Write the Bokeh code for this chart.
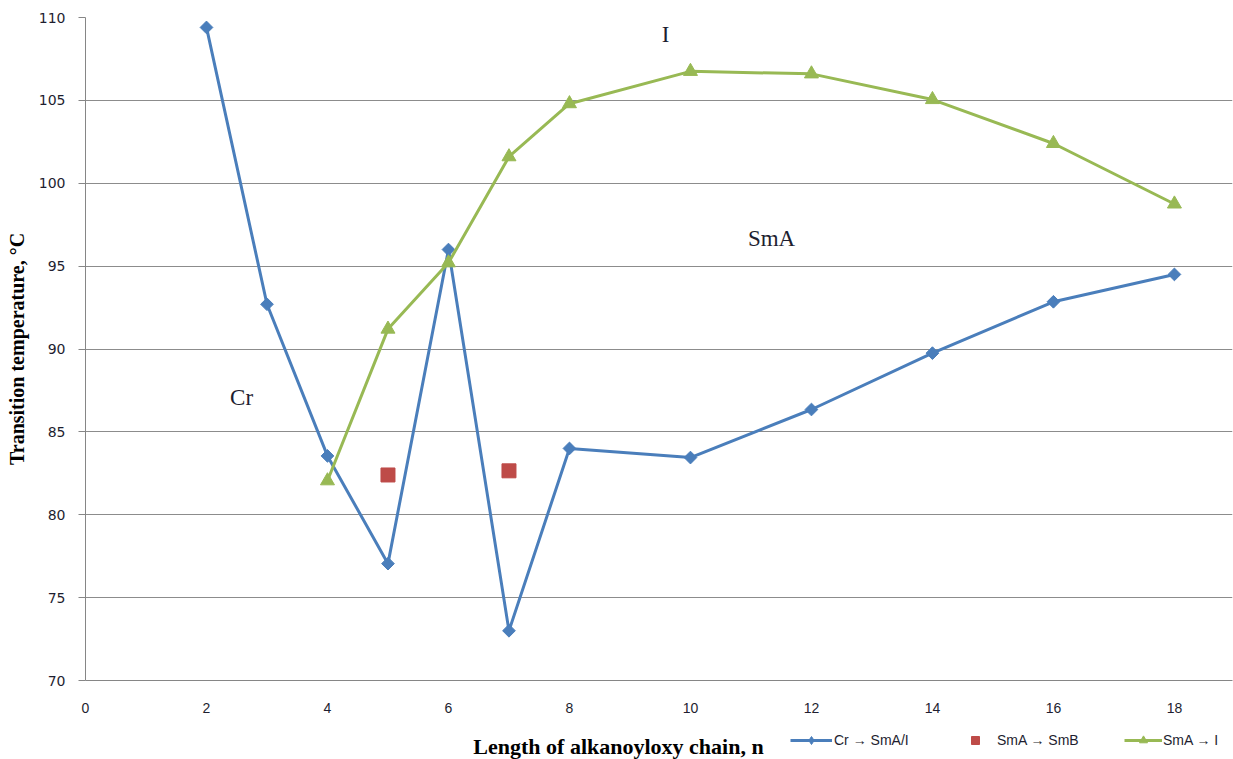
import numpy as np
from bokeh.plotting import figure
from bokeh.layouts import column
from bokeh.models import Range1d, FixedTicker, Label, Legend, LegendItem
from bokeh.embed import file_html
from bokeh.resources import INLINE

# ---- data ----
n_cr = [2, 3, 4, 5, 6, 7, 8, 10, 12, 14, 16, 18]
t_cr = [109.4, 92.7, 83.55, 77.05, 96.0, 73.0, 84.0, 83.45, 86.35, 89.75, 92.85, 94.5]

n_smb = [5, 7]
t_smb = [82.4, 82.65]

n_iso = [4, 5, 6, 7, 8, 10, 12, 14, 16, 18]
t_iso = [82.05, 91.2, 95.2, 101.6, 104.8, 106.75, 106.6, 105.05, 102.4, 98.75]

x_ticks = [0, 2, 4, 6, 8, 10, 12, 14, 16, 18]
y_ticks = [70, 75, 80, 85, 90, 95, 100, 105, 110]

phase_labels = ["I", "SmA", "Cr"]
phase_x = [9.59, 11.34, 2.58]
phase_y = [109.0, 96.65, 87.05]

series_names = ["Cr \u2192 SmA/I", "SmA \u2192 SmB", "SmA \u2192 I"]
x_title = "Length of alkanoyloxy chain, n"
y_title = "Transition temperature, \u00b0C"

BLUE = "#4A7EBB"
RED = "#BE4B48"
GREEN = "#98B954"
TXT = "#1e1e30"
NARROW = "Liberation Sans"

p = figure(frame_width=1147, frame_height=663, output_backend="svg", toolbar_location=None,
           x_range=Range1d(0, 18.96), y_range=Range1d(70, 110),
           min_border_left=85, min_border_right=1, min_border_top=17, min_border_bottom=42,
           background_fill_color="white", border_fill_color="white")
p.outline_line_color = None

# grid
p.xgrid.grid_line_color = None
p.ygrid.grid_line_color = "#8c8c8c"
p.ygrid.grid_line_width = 1
p.ygrid.ticker = FixedTicker(ticks=y_ticks)

# axes
p.xaxis.ticker = FixedTicker(ticks=x_ticks)
p.yaxis.ticker = FixedTicker(ticks=y_ticks)
for ax in (p.xaxis[0], p.yaxis[0]):
    ax.axis_line_color = "#868686"
    ax.axis_line_width = 1
    ax.minor_tick_line_color = None
    ax.major_label_text_color = TXT
p.xaxis.major_tick_line_color = None
p.xaxis.major_label_standoff = 16
p.xaxis.major_label_text_font = NARROW
p.xaxis.major_label_text_font_size = "14px"
p.yaxis.major_tick_line_color = "#868686"
p.yaxis.major_tick_out = 7
p.yaxis.major_tick_in = 0
p.yaxis.major_label_standoff = 13
p.yaxis.major_label_text_font = "DejaVu Sans"
p.yaxis.major_label_text_font_size = "14px"
p.yaxis.axis_label = y_title
p.yaxis.axis_label_text_font = "Liberation Serif"
p.yaxis.axis_label_text_font_style = "bold"
p.yaxis.axis_label_text_font_size = "20px"
p.yaxis.axis_label_text_color = "black"
p.yaxis.axis_label_standoff = 8

# series
p.line(n_cr, t_cr, line_color=BLUE, line_width=3)
p.scatter(n_cr, t_cr, marker="square", angle=np.pi / 4, size=9, fill_color=BLUE, line_color=BLUE)
p.scatter(n_smb, t_smb, marker="square", size=14, fill_color=RED, line_color=RED)
p.line(n_iso, t_iso, line_color=GREEN, line_width=3)
p.scatter(n_iso, t_iso, marker="triangle", size=14, fill_color=GREEN, line_color=GREEN)

# phase labels
for txt, xx, yy in zip(phase_labels, phase_x, phase_y):
    p.add_layout(Label(x=xx, y=yy, text=txt, text_font="Liberation Serif", text_font_size="23px",
                       text_color=TXT, text_align="center", text_baseline="middle"))

# ---- bottom strip: x-axis title and legend (pixel-unit ranges) ----
f2 = figure(frame_width=1233, frame_height=37, output_backend="svg", toolbar_location=None,
            x_range=Range1d(0, 1233), y_range=Range1d(0, 37),
            x_axis_type=None, y_axis_type=None, min_border=0,
            background_fill_color="white", border_fill_color="white")
f2.outline_line_color = None
f2.xgrid.grid_line_color = None
f2.ygrid.grid_line_color = None

# (this strip's frame is aligned with the main frame, 85 px in from the left)
f2.add_layout(Label(x=533, y=13, text=x_title, text_font="Liberation Serif",
                    text_font_style="bold", text_font_size="22px", text_color="black",
                    text_align="center", text_baseline="middle"))

# legend swatches: same series, which fall outside this strip's visible range
k1 = f2.line(n_cr, t_cr, line_color=BLUE, line_width=3)
k1m = f2.scatter(n_cr, t_cr, marker="diamond", size=13, fill_color=BLUE, line_color=BLUE)
k2 = f2.scatter(n_smb, t_smb, marker="square", size=14, fill_color=RED, line_color=RED)
k3 = f2.line(n_iso, t_iso, line_color=GREEN, line_width=3)
k3m = f2.scatter(n_iso, t_iso, marker="triangle", size=12, fill_color=GREEN, line_color=GREEN)

def mk_legend(label, renderers, loc, gw, standoff):
    lg = Legend(items=[LegendItem(label=label, renderers=renderers)], location=loc,
                orientation="horizontal", glyph_width=gw, glyph_height=20,
                label_standoff=standoff, padding=0, margin=0, spacing=0,
                border_line_color=None, background_fill_alpha=0,
                label_text_font=NARROW, label_text_font_size="14px", label_text_color=TXT,
                label_height=20)
    f2.add_layout(lg, "center")

mk_legend(series_names[0], [k1, k1m], (790, 9), 42, 2)
mk_legend(series_names[1], [k2], (954, 9), 42, 1)
mk_legend(series_names[2], [k3, k3m], (1124, 9), 38, 1)

layout = column(p, f2, spacing=0)
open("out.html", "w").write(file_html(layout, INLINE))
